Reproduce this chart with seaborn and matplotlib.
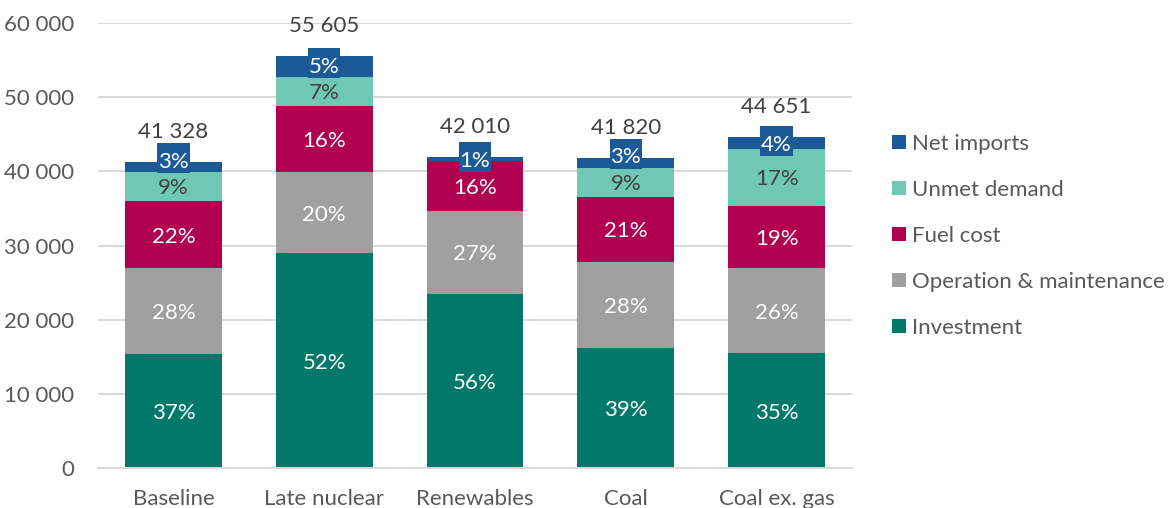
import matplotlib
matplotlib.use("Agg")
import matplotlib.pyplot as plt
from matplotlib.path import Path
from matplotlib.ticker import FuncFormatter, MultipleLocator
import numpy as np
import pandas as pd
import seaborn as sns

# Scenario cost breakdown
scenarios = ["Baseline", "Late nuclear", "Renewables", "Coal", "Coal ex. gas"]
investment = [15350, 28980, 23500, 16250, 15500]
operation_maintenance = [11580, 10910, 11200, 11600, 11500]
fuel_cost = [9100, 8980, 6720, 8750, 8400]
unmet_demand = [3900, 3830, 50, 3900, 7650]
net_imports = [1398, 2905, 540, 1320, 1601]

components = ["Investment", "Operation & maintenance", "Fuel cost",
              "Unmet demand", "Net imports"]
colors = {
    "Investment": "#00786a",
    "Operation & maintenance": "#a0a0a0",
    "Fuel cost": "#b0004f",
    "Unmet demand": "#6fc8b4",
    "Net imports": "#1c5a97",
}
label_colors = {
    "Investment": "white",
    "Operation & maintenance": "white",
    "Fuel cost": "white",
    "Unmet demand": "#404040",
    "Net imports": "white",
}

df = pd.DataFrame({
    "scenario": scenarios,
    "Investment": investment,
    "Operation & maintenance": operation_maintenance,
    "Fuel cost": fuel_cost,
    "Unmet demand": unmet_demand,
    "Net imports": net_imports,
})
cum = df[components].cumsum(axis=1)
cum.insert(0, "scenario", df["scenario"])
totals = cum["Net imports"].to_numpy()

sns.set_theme(style="white")
plt.rcParams["font.family"] = ["Lato", "DejaVu Sans"]
FS = 16


def tall_box(x0, y0, width, height, mutation_size):
    """Label box: extra room above the glyphs, none at the sides."""
    px = 0.04 * mutation_size
    top = 0.38 * mutation_size
    bot = 0.05 * mutation_size
    xa, xb = x0 - px, x0 + width + px
    ya, yb = y0 - bot, y0 + height + top
    return Path([(xa, ya), (xb, ya), (xb, yb), (xa, yb), (xa, ya)], closed=True)


fig = plt.figure(figsize=(11.71, 5.08), dpi=100)
ax = fig.add_axes([98 / 1171, 1 - 468.3 / 508, (852 - 98) / 1171, (468.3 - 23) / 508])

# Stack by drawing cumulative heights from the top layer down
for comp in reversed(components):
    sns.barplot(data=cum, x="scenario", y=comp, color=colors[comp],
                saturation=1, width=0.643, errorbar=None, label=comp,
                linewidth=0, ax=ax, zorder=2)

ax.set_ylim(0, 60000)
ax.set_xlim(-0.5, 4.5)
ax.yaxis.set_major_locator(MultipleLocator(10000))
ax.yaxis.set_major_formatter(FuncFormatter(lambda v, p: f"{v:,.0f}".replace(",", " ")))
ax.grid(axis="y", color="#d9d9d9", linewidth=1.4, zorder=0)
ax.set_axisbelow(True)
for s in ["left", "right", "top"]:
    ax.spines[s].set_visible(False)
ax.spines["bottom"].set_color("#d9d9d9")
ax.spines["bottom"].set_linewidth(1.4)
ax.tick_params(axis="y", length=0, pad=17, labelsize=FS, labelcolor="#595959")
ax.tick_params(axis="x", length=0, pad=15, labelsize=FS, labelcolor="#595959")
ax.set_xlabel("")
ax.set_ylabel("")

# Percentage labels inside each segment
for i in range(len(scenarios)):
    total = totals[i]
    bottom = 0.0
    centers = {}
    for comp in components:
        v = df[comp].iloc[i]
        centers[comp] = bottom + v / 2
        pct = round(100 * v / total)
        if pct >= 1:
            y = bottom + v / 2
            kw = {}
            if comp == "Net imports":
                if round(100 * df["Unmet demand"].iloc[i] / total) >= 1:
                    y = max(y, centers["Unmet demand"] + 3600)
                kw["bbox"] = dict(boxstyle=tall_box, fc=colors[comp], ec="none")
            ax.text(i, y, f"{pct}%", ha="center", va="center_baseline", fontsize=FS,
                    color=label_colors[comp], zorder=5, **kw)
        bottom += v
    ax.annotate(f"{total:,.0f}".replace(",", " "), xy=(i, total), xytext=(0, 23),
                textcoords="offset points", ha="center", va="center_baseline",
                fontsize=FS, color="#404040")

handles, labels = ax.get_legend_handles_labels()
ax.legend(handles, labels, loc="upper left", bbox_to_anchor=(892 / 1171, 1 - 134 / 508),
          bbox_transform=fig.transFigure, frameon=False, fontsize=FS,
          labelcolor="#595959", handlelength=0.62, handleheight=0.62,
          handletextpad=0.3, labelspacing=1.17, borderpad=0, borderaxespad=0)

fig.savefig("out.png", dpi=100)
